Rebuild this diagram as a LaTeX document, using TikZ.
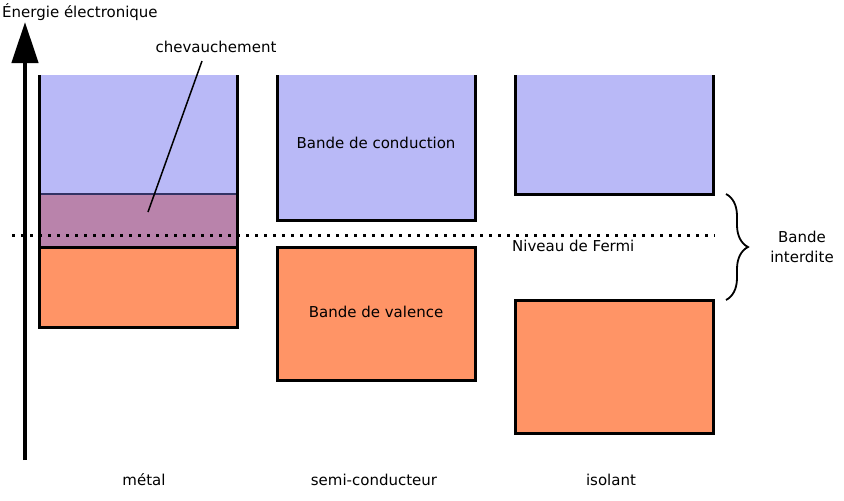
\documentclass[tikz,border=0pt]{standalone}
\usepackage{fontspec}
\setmainfont{DejaVu Sans}
\usetikzlibrary{arrows.meta,decorations.pathreplacing}
\definecolor{condblue}{RGB}{185,185,247}
\definecolor{overlap}{RGB}{185,131,171}
\definecolor{valorange}{RGB}{255,148,102}
\begin{document}
\begin{tikzpicture}[
    x=1pt, y=-1pt,
    every node/.style={draw=none, inner sep=0pt, font=\fontsize{15}{20}\selectfont},
    bandedge/.style={draw, line width=3pt, line join=miter},
    fermi/.style={line width=3pt, dash pattern=on 3pt off 6pt},
    axis/.style={line width=4.5pt, -{Triangle[width=26pt,length=41pt]}}
]
\useasboundingbox (0,0) rectangle (844,501);
% metal
\fill[condblue] (39,75) rectangle (237,194);
\fill[overlap] (39,194) rectangle (237,247);
\fill[valorange] (39,247) rectangle (237,327);
\draw[line width=1.5pt, draw={rgb,255:red,50;green,50;blue,100}] (39,194) -- (237,194);
\draw[bandedge] (39,75) -- (39,327) -- (237,327) -- (237,75);
\draw[bandedge] (39,247) -- (237,247);
% semi-conducteur
\fill[condblue] (277,75) rectangle (475,220);
\draw[bandedge] (277,75) -- (277,220) -- (475,220) -- (475,75);
\draw[bandedge, fill=valorange] (277,247) rectangle (475,380);
% isolant
\fill[condblue] (515,75) rectangle (713,194);
\draw[bandedge] (515,75) -- (515,194) -- (713,194) -- (713,75);
\draw[bandedge, fill=valorange] (515,300) rectangle (713,433);
% axe
\coordinate (base) at (25,460);
\coordinate (top) at (25,22);
\draw[axis] (base) -- (top);
\node[anchor=west] (energie) at (2,12) {Énergie électronique};
% Fermi
\coordinate (fermiL) at (12,235);
\coordinate (fermiR) at (715,235);
\draw[fermi] (fermiL) -- (fermiR);
\node[anchor=base west] (niveau) at (512,251) {Niveau de Fermi};
% textes
\node (cond) at (376,143) {Bande de conduction};
\node (val) at (376,312) {Bande de valence};
\node (chev) at (216,47) {chevauchement};
\coordinate (chevpt) at (148,212);
\draw[line width=1.5pt] (chev.south) ++(-14pt,-8pt) -- (chevpt);
\coordinate (gaptop) at (726,194);
\coordinate (gapbot) at (726,300);
\draw[line width=1.8pt, decorate, decoration={brace, amplitude=22pt}] (gaptop) -- (gapbot);
\node[align=center] (gap) at (802,247) {Bande\\interdite};
\node (metal) at (144,480) {métal};
\node (semi) at (374,480) {semi-conducteur};
\node (isol) at (611,480) {isolant};
\end{tikzpicture}
\end{document}
